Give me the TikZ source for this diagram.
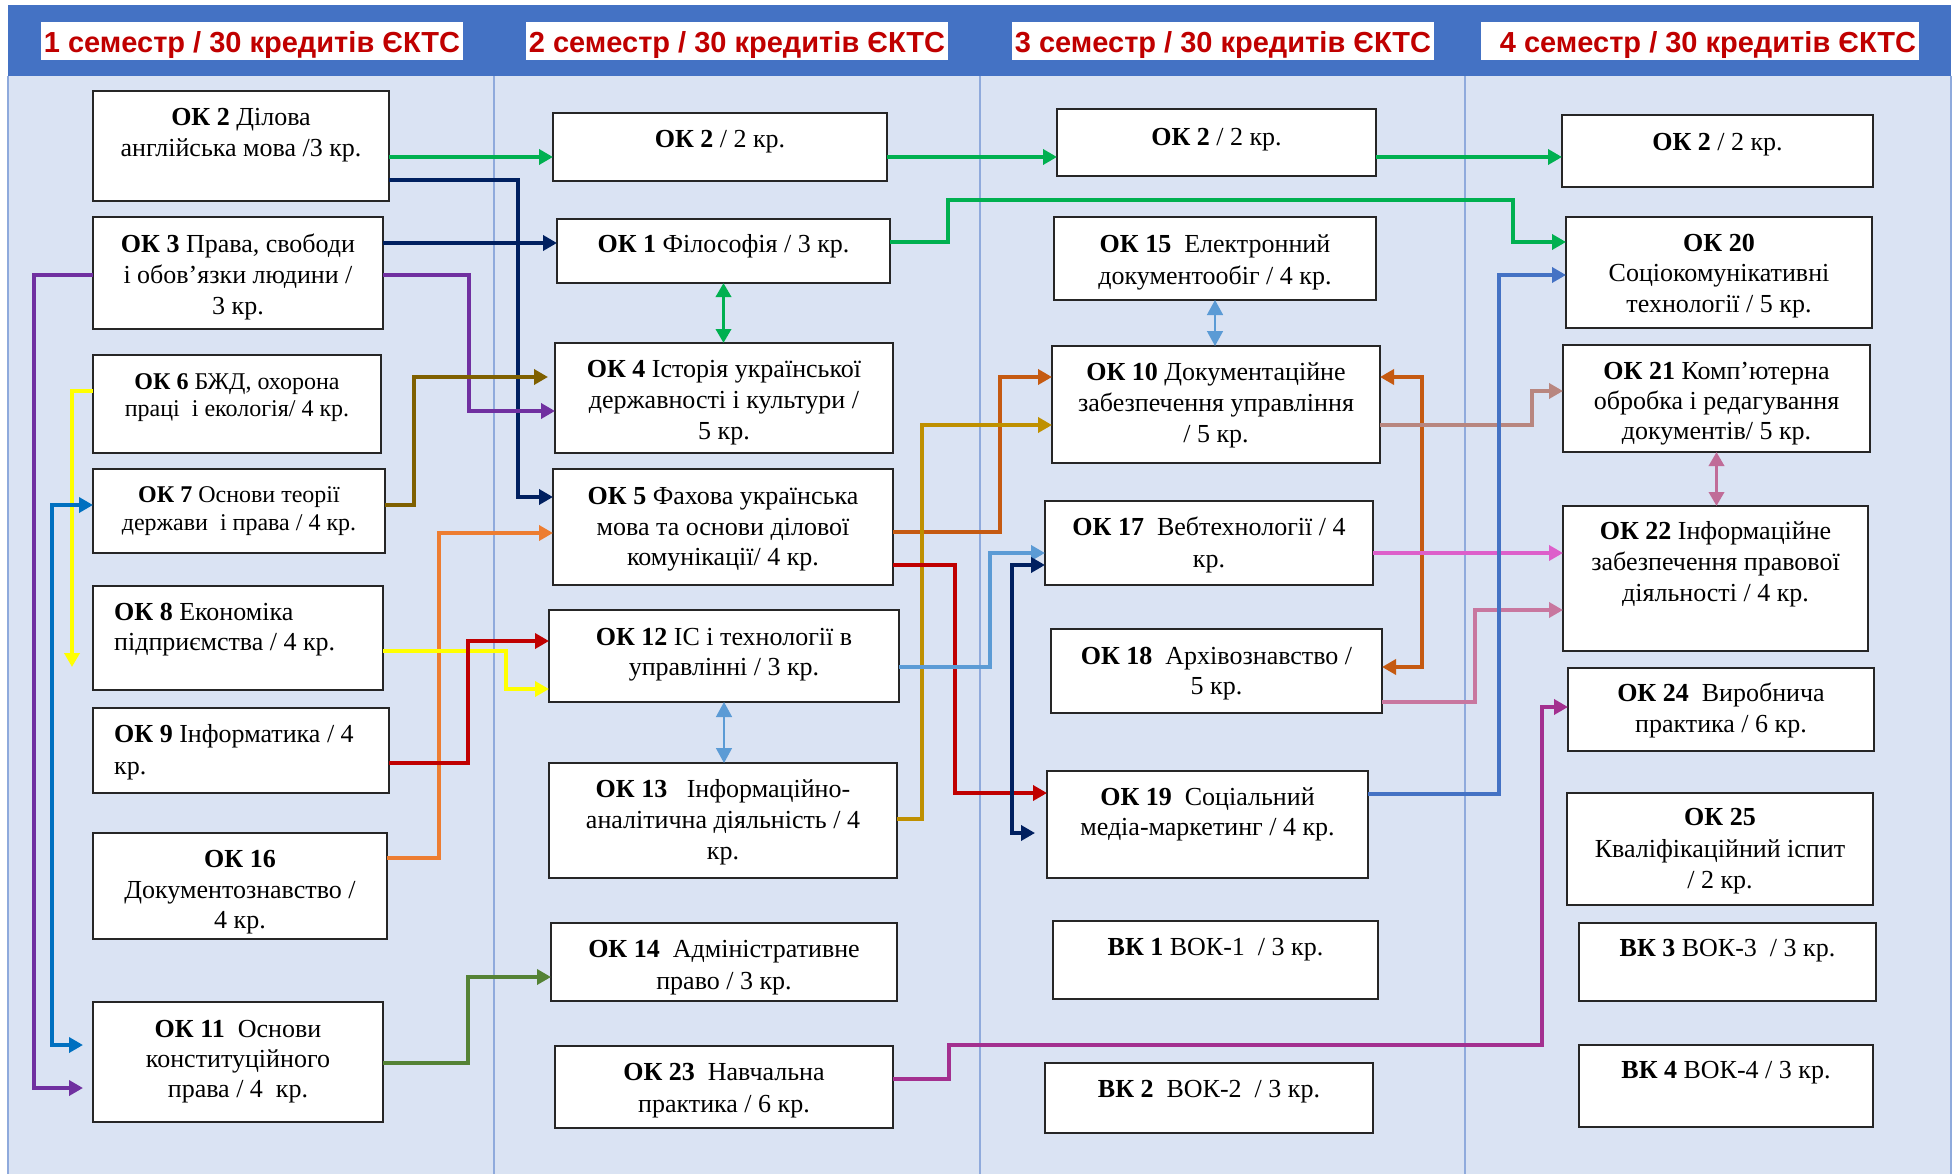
\documentclass[tikz,border=0pt]{standalone}
\usepackage{fontspec}
\setmainfont{Liberation Serif}
\newfontfamily\hdrfont{Liberation Sans}
\usetikzlibrary{arrows.meta}
\definecolor{hdrblue}{HTML}{4472C4}
\definecolor{hdrred}{HTML}{C00000}
\definecolor{bgblue}{HTML}{DAE3F3}
\definecolor{colline}{HTML}{8FAADC}
\definecolor{cgreen}{HTML}{00B050}
\definecolor{cnavy}{HTML}{002060}
\definecolor{cpurple}{HTML}{7030A0}
\definecolor{cyellow}{HTML}{FFFF00}
\definecolor{cblueA}{HTML}{0070C0}
\definecolor{cbrown}{HTML}{7F6000}
\definecolor{corange}{HTML}{ED7D31}
\definecolor{cred}{HTML}{C00000}
\definecolor{colive}{HTML}{548235}
\definecolor{cdkorange}{HTML}{C55A11}
\definecolor{cgold}{HTML}{BF9000}
\definecolor{cltblue}{HTML}{5B9BD5}
\definecolor{crosy}{HTML}{B8867F}
\definecolor{corchid}{HTML}{DD5FCA}
\definecolor{cpink}{HTML}{C8779F}
\definecolor{cpinkB}{HTML}{C06C98}
\definecolor{cblueB}{HTML}{4472C4}
\definecolor{cmagenta}{HTML}{A3308F}
\tikzset{
  box/.style={draw=black!85, line width=1.5pt, fill=white, inner sep=0pt, outer sep=0pt},
  txt/.style={inner sep=0pt, anchor=base},
  txtl/.style={inner sep=0pt, anchor=base west},
  conn/.style={line width=3.5pt, -{Triangle[length=14pt,width=15pt]}},
  dconn/.style={line width=3.5pt, {Triangle[length=14pt,width=15pt]}-{Triangle[length=14pt,width=15pt]}},
  thinconn/.style={line width=1.5pt, {Triangle[length=15pt,width=16pt]}-{Triangle[length=15pt,width=16pt]}},
  hdr/.style={fill=white, minimum height=38pt, inner sep=0pt, text height=24pt, text depth=0pt,
    font=\hdrfont\bfseries\fontsize{29}{34}\selectfont, text=hdrred},
}
\newcommand\bx[9]{%
  \node[box, minimum width={(#4-#2)*1pt}, minimum height={(#5-#3)*1pt}] (#1) at ({(#2+#4)/2},{(#3+#5)/2}) {};
  \node[txt] (#1-t) at ({(#2+#4)/2},#6) {\parbox[t]{\dimexpr #4pt-#2pt+60pt\relax}{\centering\fontsize{#7}{#8}\selectfont #9}};
}
\newcommand\bxl[9]{%
  \node[box, minimum width={(#4-#2)*1pt}, minimum height={(#5-#3)*1pt}] (#1) at ({(#2+#4)/2},{(#3+#5)/2}) {};
  \node[txtl] (#1-t) at ({#2+21},#6) {\parbox[t]{\dimexpr #4pt-#2pt\relax}{\raggedright\fontsize{#7}{#8}\selectfont #9}};
}
\begin{document}
\begin{tikzpicture}[x=1pt,y=-1pt]
\useasboundingbox (0,0) rectangle (1959,1174);
\fill[white] (0,0) rectangle (1959,1174);
\fill[hdrblue] (8,5) rectangle (1951,76);
\fill[bgblue] (8,76) rectangle (1951,1174);
\foreach \cx in {8,494,980,1465,1951}
  \draw[colline, line width=1.5pt] (\cx,76) -- (\cx,1174);
% headers
\node[hdr, minimum width=422pt] (h1) at (252,41) {1 семестр / 30 кредитів ЄКТС};
\node[hdr, minimum width=422pt] (h2) at (737,41) {2 семестр / 30 кредитів ЄКТС};
\node[hdr, minimum width=422pt] (h3) at (1223,41) {3 семестр / 30 кредитів ЄКТС};
\node[hdr, minimum width=438pt] (h4) at (1700,41) {\hspace*{16pt}4 семестр / 30 кредитів ЄКТС};
% column 1
\bx{ok2a}{93}{91}{389}{201}{125.5}{26}{31}{\textbf{ОК 2} Ділова\\англійська мова /3 кр.}
\bx{ok3}{93}{217}{383}{329}{252.5}{26}{31}{\textbf{ОК 3} Права, свободи\\і обов’язки людини /\\3 кр.}
\bx{ok6}{93}{355}{381}{453}{389}{24}{27}{\textbf{ОК 6} БЖД, охорона\\праці\ \ і екологія/ 4 кр.}
\bx{ok7}{93}{469}{385}{553}{502}{24}{28}{\textbf{ОК 7} Основи теорії\\держави\ \ і права / 4 кр.}
\bxl{ok8}{93}{586}{383}{690}{620.5}{26}{30}{\textbf{ОК 8} Економіка\\підприємства / 4 кр.}
\bxl{ok9}{93}{708}{389}{793}{742.5}{26}{32}{\textbf{ОК 9} Інформатика / 4\\кр.}
\bx{ok16}{93}{833}{387}{939}{867.5}{26}{30.5}{\textbf{ОК 16}\\Документознавство /\\4 кр.}
\bx{ok11}{93}{1002}{383}{1122}{1037.5}{26}{30}{\textbf{ОК 11}\ \ Основи\\конституційного\\права / 4\ \ кр.}
% column 2
\bx{ok2b}{553}{113}{887}{181}{147.5}{26}{31}{\textbf{ОК 2} / 2 кр.}
\bx{ok1}{557}{219}{890}{283}{252.5}{26}{31}{\textbf{ОК 1} Філософія / 3 кр.}
\bx{ok4}{555}{343}{893}{453}{377.5}{26}{31}{\textbf{ОК 4} Історія української\\державності і культури /\\5 кр.}
\bx{ok5}{553}{469}{893}{585}{504.5}{26}{30.5}{\textbf{ОК 5} Фахова українська\\мова та основи ділової\\комунікації/ 4 кр.}
\bx{ok12}{549}{610}{899}{702}{645.5}{26}{30}{\textbf{ОК 12} ІС і технології в\\управлінні / 3 кр.}
\bx{ok13}{549}{763}{897}{878}{797.5}{26}{31}{\textbf{ОК 13}\ \ \ Інформаційно-\\аналітична діяльність / 4\\кр.}
\bx{ok14}{551}{923}{897}{1001}{957.5}{26}{32}{\textbf{ОК 14}\ \ Адміністративне\\право / 3 кр.}
\bx{ok23}{555}{1046}{893}{1128}{1080.5}{26}{32}{\textbf{ОК 23}\ \ Навчальна\\практика / 6 кр.}
% column 3
\bx{ok2c}{1057}{109}{1376}{176}{145.5}{26}{31}{\textbf{ОК 2} / 2 кр.}
\bx{ok15}{1054}{217}{1376}{300}{252.5}{26}{32}{\textbf{ОК 15}\ \ Електронний\\документообіг / 4 кр.}
\bx{ok10}{1052}{346}{1380}{463}{380.5}{26}{31}{\textbf{ОК 10} Документаційне\\забезпечення управління\\/ 5 кр.}
\bx{ok17}{1045}{501}{1373}{585}{535.5}{26}{32}{\textbf{ОК 17}\ \ Вебтехнології / 4\\кр.}
\bx{ok18}{1051}{629}{1382}{713}{664.5}{26}{30}{\textbf{ОК 18}\ \ Архівознавство /\\5 кр.}
\bx{ok19}{1047}{771}{1368}{878}{805.5}{26}{30}{\textbf{ОК 19}\ \ Соціальний\\медіа-маркетинг / 4 кр.}
\bx{vk1}{1053}{921}{1378}{999}{955.5}{26}{31}{\textbf{ВК 1} ВОК-1\ \ / 3 кр.}
\bx{vk2}{1045}{1063}{1373}{1133}{1097.5}{26}{31}{\textbf{ВК 2}\ \ ВОК-2\ \ / 3 кр.}
% column 4
\bx{ok2d}{1562}{115}{1873}{187}{150.5}{26}{31}{\textbf{ОК 2} / 2 кр.}
\bx{ok20}{1566}{217}{1872}{328}{251.5}{26}{30.5}{\textbf{ОК 20}\\Соціокомунікативні\\технології / 5 кр.}
\bx{ok21}{1563}{345}{1870}{452}{379.5}{26}{30}{\textbf{ОК 21} Комп’ютерна\\обробка і редагування\\документів/ 5 кр.}
\bx{ok22}{1563}{506}{1868}{651}{539.5}{26}{31}{\textbf{ОК 22} Інформаційне\\забезпечення правової\\діяльності / 4 кр.}
\bx{ok24}{1568}{668}{1874}{751}{701.5}{26}{31}{\textbf{ОК 24}\ \ Виробнича\\практика / 6 кр.}
\bx{ok25}{1567}{793}{1873}{905}{825.5}{26}{31.5}{\textbf{ОК 25}\\Кваліфікаційний іспит\\/ 2 кр.}
\bx{vk3}{1579}{923}{1876}{1001}{956.5}{26}{31}{\textbf{ВК 3} ВОК-3\ \ / 3 кр.}
\bx{vk4}{1579}{1045}{1873}{1127}{1078.5}{26}{31}{\textbf{ВК 4} ВОК-4 / 3 кр.}
% connectors
\coordinate (yellowend) at (72,667);
\draw[conn, cgreen] (ok2a.east |- 0,157) -- (ok2b.west |- 0,157);
\draw[conn, cgreen] (ok2b.east |- 0,157) -- (ok2c.west |- 0,157);
\draw[conn, cgreen] (ok2c.east |- 0,157) -- (ok2d.west |- 0,157);
\draw[conn, cnavy] (ok3.east |- 0,243) -- (ok1.west |- 0,243);
\draw[conn, cnavy] (ok2a.east |- 0,180) -| (518,497) -- (ok5.west |- 0,497);
\draw[conn, cpurple] (ok3.east |- 0,275) -| (469,411) -- (ok4.west |- 0,411);
\draw[conn, cpurple, shorten >=10pt] (ok3.west |- 0,275) -| (34,1088) -- (ok11.west |- 0,1088);
\draw[conn, cyellow] (ok6.west |- 0,391) -| (yellowend);
\draw[dconn, cblueA, shorten >=10pt] (ok7.west |- 0,505) -| (52,1045) -- (ok11.west |- 0,1045);
\draw[conn, cbrown, shorten >=7pt] (ok7.east |- 0,505) -| (414,377) -- (ok4.west |- 0,377);
\draw[conn, corange] (ok16.east |- 0,858) -| (439,533) -- (ok5.west |- 0,533);
\draw[conn, cyellow] (ok8.east |- 0,651) -| (506,689) -- (ok12.west |- 0,689);
\draw[conn, cred] (ok9.east |- 0,763) -| (468,641) -- (ok12.west |- 0,641);
\draw[conn, colive] (ok11.east |- 0,1063) -| (468,977) -- (ok14.west |- 0,977);
\draw[dconn, cgreen] (ok1.south) -- (ok1.south |- ok4.north);
\draw[conn, cgreen] (ok1.east |- 0,242) -| (948,200) -| (1513,242) -- (ok20.west |- 0,242);
\draw[conn, cdkorange] (ok5.east |- 0,532) -| (1000,377) -- (ok10.west |- 0,377);
\draw[conn, cgold] (ok13.east |- 0,819) -| (922,425) -- (ok10.west |- 0,425);
\draw[conn, cred] (ok5.east |- 0,565) -| (955,793) -- (ok19.west |- 0,793);
\draw[conn, cltblue] (ok12.east |- 0,667) -| (990,553) -- (ok17.west |- 0,553);
\draw[thinconn, cltblue] (ok12.south) -- (ok12.south |- ok13.north);
\draw[dconn, cnavy, shorten >=12pt] (ok17.west |- 0,565) -| (1012,833) -- (ok19.west |- 0,833);
\draw[thinconn, cltblue] (ok15.south) -- (ok15.south |- ok10.north);
\draw[dconn, cdkorange] (ok10.east |- 0,377) -| (1422,667) -- (ok18.east |- 0,667);
\draw[conn, crosy] (ok10.east |- 0,425) -| (1532,391) -- (ok21.west |- 0,391);
\draw[conn, corchid] (ok17.east |- 0,553) -- (ok22.west |- 0,553);
\draw[conn, cpink] (ok18.east |- 0,702) -| (1475,610) -- (ok22.west |- 0,610);
\draw[conn, cblueB] (ok19.east |- 0,794) -| (1499,275) -- (ok20.west |- 0,275);
\draw[conn, cmagenta] (ok23.east |- 0,1079) -| (949,1045) -| (1542,707) -- (ok24.west |- 0,707);
\draw[dconn, cpinkB] (ok21.south) -- (ok21.south |- ok22.north);
\end{tikzpicture}
\end{document}
